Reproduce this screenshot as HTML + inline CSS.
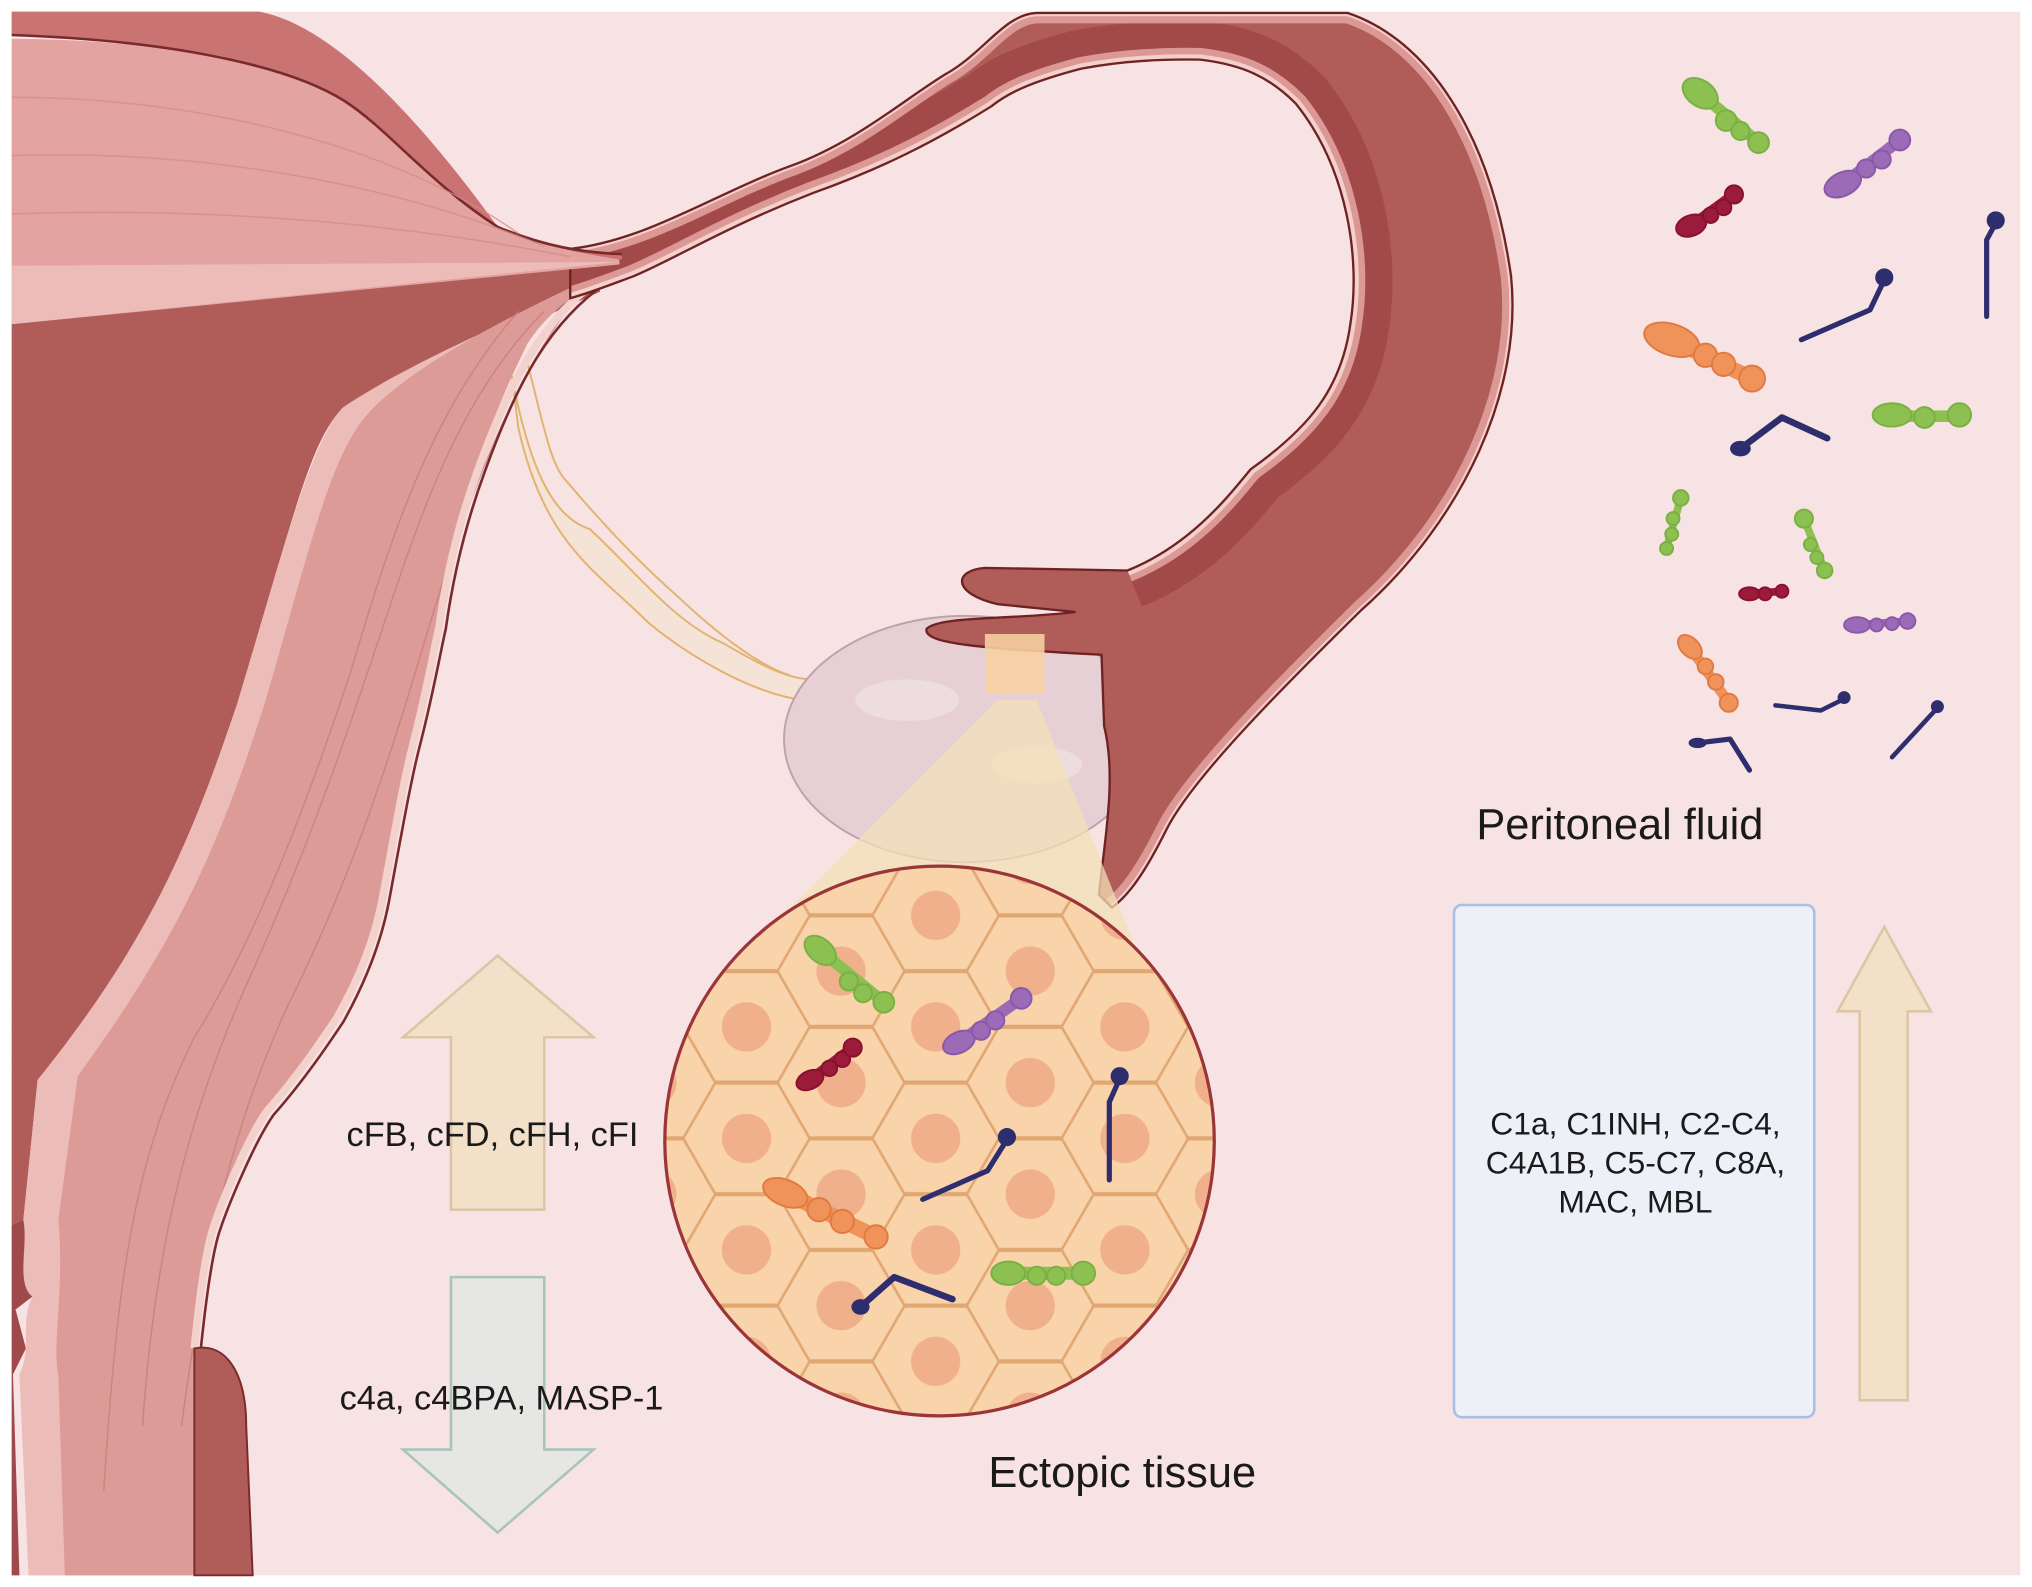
<!DOCTYPE html>
<html><head><meta charset="utf-8"><style>
html,body{margin:0;padding:0;background:#fff;}
svg{display:block;}
text{font-family:"Liberation Sans",sans-serif;fill:#1a1a1a;}
</style></head><body>
<svg width="2032" height="1587" viewBox="0 0 1568 1224" preserveAspectRatio="none" xmlns="http://www.w3.org/2000/svg">
<defs>
<pattern id="hex" patternUnits="userSpaceOnUse" width="146" height="86" x="138" y="18">
<rect width="146" height="86" fill="#f9d3a9"/>
<g fill="#f9d3a9" stroke="#e1a772" stroke-width="2">
<polygon points="-49,0 -24.5,-42.4 24.5,-42.4 49,0 24.5,42.4 -24.5,42.4"/>
<polygon transform="translate(146,0)" points="-49,0 -24.5,-42.4 24.5,-42.4 49,0 24.5,42.4 -24.5,42.4"/>
<polygon transform="translate(0,86)" points="-49,0 -24.5,-42.4 24.5,-42.4 49,0 24.5,42.4 -24.5,42.4"/>
<polygon transform="translate(146,86)" points="-49,0 -24.5,-42.4 24.5,-42.4 49,0 24.5,42.4 -24.5,42.4"/>
<polygon transform="translate(73,43)" points="-49,0 -24.5,-42.4 24.5,-42.4 49,0 24.5,42.4 -24.5,42.4"/>
</g>
<g fill="#f0b08c">
<circle cx="0" cy="0" r="19"/><circle cx="146" cy="0" r="19"/><circle cx="0" cy="86" r="19"/><circle cx="146" cy="86" r="19"/><circle cx="73" cy="43" r="19"/>
</g>
</pattern>
<clipPath id="tubeclip"><path id="tubepath" d="M440,192 C500,185 550,150 610,128 C660,110 700,75 730,57 C760,40 775,11 800,10 L1040,10 C1100,30 1150,100 1166,213 C1175,300 1130,400 1050,471 C990,530 920,600 900,640 C885,670 872,690 858,700 L848,690 C852,650 862,600 852,560 L850,505 C760,500 712,497 715,485 C725,475 780,478 830,472 L770,466 C735,458 735,440 760,438 L870,440 C920,420 950,380 965,362 C1010,330 1035,300 1042,250 C1050,200 1040,130 1000,80 C980,60 960,50 926,46 C880,45 850,50 834,53 C800,62 780,70 765,82 C720,110 680,130 627,149 C560,175 520,200 489,213 C470,220 455,226 440,230 Z"/></clipPath>
</defs>
<rect width="1568" height="1224" fill="#fff"/>
<rect x="9" y="9" width="1550" height="1206" fill="#f7e2e4"/>

<!-- ligament -->
<path d="M395,290 C410,370 430,400 455,408 C490,440 520,480 558,496 C590,515 610,524 627,524 L620,540 C580,535 530,505 500,480 C460,440 420,420 400,330 Z" fill="#f4e3d6" stroke="#e2b36e" stroke-width="1.5"/>
<path d="M407,280 C420,330 425,360 438,372 C470,410 500,440 524,461 C560,495 590,515 610,521" fill="none" stroke="#e2b36e" stroke-width="1.5"/>

<!-- uterus body -->
<path d="M9,250 L463,205 L463,225 L265,314 C240,340 230,386 183,543 C150,640 120,720 29,833 L18,941 L9,945 Z" fill="#b05c58"/>
<path d="M9,945 L20,940 L25,1000 L12,1010 L20,1040 L10,1060 L15,1215 L9,1215 Z" fill="#a0494a"/>
<path d="M454,223 C380,250 300,290 265,314 C240,340 220,420 183,543 C150,640 120,720 29,833 L18,941 C22,960 12,990 25,1000 C15,1020 25,1040 15,1060 L22,1215 L150,1215 L150,1040 C155,990 160,960 165,946 C170,930 190,880 206,857 C230,830 250,800 260,785 C280,750 290,720 295,694 C305,640 312,600 319,573 C330,530 335,500 339,483 C345,440 355,400 369,362 C380,320 395,290 407,265 C420,245 440,228 463,215 Z" fill="#ecbcb9"/>
<path d="M440,222 C370,255 310,290 285,318 C255,350 240,420 205,540 C170,650 140,720 60,830 L45,941 C50,990 40,1040 45,1060 L50,1215 L150,1215 L150,1040 C155,990 160,960 165,946 C170,930 190,880 206,857 C230,830 250,800 260,785 C280,750 290,720 295,694 C305,640 312,600 319,573 C330,530 335,500 339,483 C345,440 355,400 369,362 C380,320 395,290 407,265 C420,245 440,228 463,215 Z" fill="#dd9b98"/>
<g stroke="#c97a78" stroke-width="1.2" fill="none" opacity="0.7">
<path d="M420,240 C360,300 330,380 300,470 C270,560 240,650 190,760 C150,850 120,950 110,1100"/>
<path d="M440,235 C380,320 350,420 320,520 C290,620 260,700 220,780 C180,870 160,950 140,1100"/>
<path d="M400,240 C330,320 300,420 270,520 C240,610 200,720 150,800 C100,900 90,1000 80,1150"/>
</g>
<path d="M463,215 C420,245 395,290 369,362 C355,400 345,440 339,483 C335,500 330,530 319,573 C312,600 305,640 295,694 C290,720 280,750 260,785 C250,800 230,830 206,857 C190,880 170,930 165,946 C160,960 155,990 150,1040" fill="none" stroke="#f3d2ce" stroke-width="6"/>
<path d="M468,218 C425,248 400,292 374,364 C360,402 350,442 344,485 C340,502 335,532 324,575 C317,602 310,642 300,696 C295,722 285,752 265,788 C255,803 235,833 211,860 C195,883 175,933 170,948 C165,962 160,992 155,1040" fill="none" stroke="#7a2a2a" stroke-width="2"/>
<path d="M150,1040 C175,1035 190,1060 190,1100 L195,1215 L150,1215 Z" fill="#b05c58" stroke="#7a2a2a" stroke-width="1.5"/>

<!-- ovary -->
<ellipse cx="745" cy="570" rx="140" ry="95" fill="#e6d0d5" stroke="#bfa2a9" stroke-width="1.5"/>
<ellipse cx="700" cy="540" rx="40" ry="16" fill="#efe0e4" opacity="0.8"/>
<ellipse cx="800" cy="590" rx="35" ry="14" fill="#efe0e4" opacity="0.8"/>

<!-- tube -->
<use href="#tubepath" fill="#b05c58"/>
<g clip-path="url(#tubeclip)">
<path d="M440,230 C455,226 470,220 489,213 C520,200 560,175 627,149 C680,130 720,110 765,82 C780,70 800,62 834,53 C850,50 880,45 926,46 C960,50 980,60 1000,80 C1040,130 1050,200 1042,250 C1035,300 1010,330 965,362 C950,380 920,420 870,440" fill="none" stroke="#a24a4a" stroke-width="60"/>
<path d="M440,230 C455,226 470,220 489,213 C520,200 560,175 627,149 C680,130 720,110 765,82 C780,70 800,62 834,53 C850,50 880,45 926,46 C960,50 980,60 1000,80 C1040,130 1050,200 1042,250 C1035,300 1010,330 965,362 C950,380 920,420 870,440" fill="none" stroke="#dc9895" stroke-width="18"/>
<path d="M440,230 C455,226 470,220 489,213 C520,200 560,175 627,149 C680,130 720,110 765,82 C780,70 800,62 834,53 C850,50 880,45 926,46 C960,50 980,60 1000,80 C1040,130 1050,200 1042,250 C1035,300 1010,330 965,362 C950,380 920,420 870,440" fill="none" stroke="#f3d0cc" stroke-width="8"/>
<path d="M440,192 C500,185 550,150 610,128 C660,110 700,75 730,57 C760,40 775,11 800,10 L1040,10 C1100,30 1150,100 1166,213 C1175,300 1130,400 1050,471 C990,530 920,600 900,640 C885,670 872,690 858,700" fill="none" stroke="#dc9895" stroke-width="16"/>
<path d="M440,192 C500,185 550,150 610,128 C660,110 700,75 730,57 C760,40 775,11 800,10 L1040,10 C1100,30 1150,100 1166,213 C1175,300 1130,400 1050,471 C990,530 920,600 900,640 C885,670 872,690 858,700" fill="none" stroke="#f3d0cc" stroke-width="5"/>
</g>
<use href="#tubepath" fill="none" stroke="#6e2222" stroke-width="1.8"/>

<!-- horn (over tube start) -->
<path d="M9,9 L200,9 C260,20 330,100 384,175 C420,190 450,194 480,195 L480,200 C440,198 410,190 384,178 C330,140 300,100 266,78 C220,50 150,32 9,27 Z" fill="#c97473"/>
<path d="M9,30 C120,30 220,50 266,78 C300,100 330,140 384,175 C420,190 450,196 478,200 L478,204 L9,250 Z" fill="#e3a3a0"/>
<path d="M9,27 C150,32 230,55 266,78 C300,100 330,140 384,175 C420,190 450,195 480,196" fill="none" stroke="#7a2a2a" stroke-width="2"/>
<path d="M9,205 L478,202 L9,250 Z" fill="#ecbcb9"/>
<g stroke="#d58a88" stroke-width="1.2" fill="none" opacity="0.7">
<path d="M9,75 C150,75 300,110 400,180"/><path d="M9,120 C150,115 300,140 420,190"/><path d="M9,165 C150,160 300,170 440,198"/>
</g>

<!-- patch & cone -->
<rect x="760" y="489" width="46" height="46" fill="#f7cfa2" opacity="0.9"/>
<polygon points="770,540 800,540 880,740 570,740" fill="#f3e0b5" opacity="0.75"/>

<!-- circle -->
<circle cx="725" cy="880" r="212" fill="url(#hex)" stroke="#9c3538" stroke-width="2.5"/>

<!-- arrows -->
<polygon points="384,737 458,800 420,800 420,933 348,933 348,800 311,800" fill="#f3e0c9" stroke="#dcc6a6" stroke-width="2"/>
<polygon points="348,985 420,985 420,1118 458,1118 384,1182 311,1118 348,1118" fill="#e6e6e4" stroke="#a9c4ba" stroke-width="2"/>
<polygon points="1454,715 1490,780 1472,780 1472,1080 1435,1080 1435,780 1418,780" fill="#f3e0c9" stroke="#dcc6a6" stroke-width="2"/>

<!-- box -->
<rect x="1122" y="698" width="278" height="395" rx="6" fill="#eef0f8" stroke="#a9bfe3" stroke-width="2"/>

<!-- texts -->
<text x="380" y="884" font-size="26.5" text-anchor="middle">cFB, cFD, cFH, cFI</text>
<text x="387" y="1087" font-size="26.5" text-anchor="middle">c4a, c4BPA, MASP-1</text>
<text x="866" y="1147" font-size="33.5" text-anchor="middle">Ectopic tissue</text>
<text x="1250" y="647" font-size="33.5" text-anchor="middle">Peritoneal fluid</text>
<text x="1262" y="875" font-size="24.6" text-anchor="middle">C1a, C1INH, C2-C4,</text>
<text x="1262" y="905" font-size="24.6" text-anchor="middle">C4A1B, C5-C7, C8A,</text>
<text x="1262" y="935" font-size="24.6" text-anchor="middle">MAC, MBL</text>

<!-- bacteria -->
<g stroke-linecap="round" stroke-linejoin="round">
<g fill="#8cc152" stroke="#7ab043" stroke-width="1.5">
<path d="M1312,72 L1357,110" stroke="#8cc152" stroke-width="9"/>
<ellipse cx="1312" cy="72" rx="15" ry="10" transform="rotate(35 1312 72)"/><circle cx="1332" cy="93" r="8"/><circle cx="1343" cy="101" r="7"/><circle cx="1357" cy="110" r="8"/>
<path d="M1460,321 L1512,321" stroke="#8cc152" stroke-width="9"/>
<ellipse cx="1460" cy="320" rx="15" ry="9"/><circle cx="1485" cy="322" r="8"/><circle cx="1512" cy="320" r="9"/>
<path d="M1297,384 L1286,423" stroke="#8cc152" stroke-width="6"/>
<circle cx="1297" cy="384" r="6"/><circle cx="1291" cy="400" r="5"/><circle cx="1290" cy="412" r="5"/><circle cx="1286" cy="423" r="5"/>
<path d="M1392,400 L1408,440" stroke="#8cc152" stroke-width="6"/>
<circle cx="1392" cy="400" r="7"/><circle cx="1397" cy="420" r="5"/><circle cx="1402" cy="430" r="5"/><circle cx="1408" cy="440" r="6"/>
</g>
<g fill="#9c6bb8" stroke="#8a58a8" stroke-width="1.5">
<path d="M1422,142 L1466,108" stroke="#9c6bb8" stroke-width="9"/>
<ellipse cx="1422" cy="142" rx="15" ry="9" transform="rotate(-25 1422 142)"/><circle cx="1440" cy="130" r="7"/><circle cx="1452" cy="123" r="7"/><circle cx="1466" cy="108" r="8"/>
<path d="M1433,482 L1472,479" stroke="#9c6bb8" stroke-width="6"/>
<ellipse cx="1433" cy="482" rx="10" ry="6"/><circle cx="1448" cy="482" r="5"/><circle cx="1460" cy="481" r="5"/><circle cx="1472" cy="479" r="6"/>
</g>
<g fill="#9b1b3a" stroke="#8a1030" stroke-width="1.5">
<path d="M1305,174 L1338,150" stroke="#9b1b3a" stroke-width="8"/>
<ellipse cx="1305" cy="174" rx="12" ry="8" transform="rotate(-20 1305 174)"/><circle cx="1320" cy="166" r="6"/><circle cx="1330" cy="160" r="6"/><circle cx="1338" cy="150" r="7"/>
<path d="M1350,458 L1375,456" stroke="#9b1b3a" stroke-width="6"/>
<ellipse cx="1350" cy="458" rx="8" ry="5"/><circle cx="1362" cy="458" r="5"/><circle cx="1375" cy="456" r="5"/>
</g>
<g fill="#f0935a" stroke="#e07a40" stroke-width="1.5">
<path d="M1290,262 L1352,292" stroke="#f0935a" stroke-width="12"/>
<ellipse cx="1290" cy="262" rx="22" ry="12" transform="rotate(18 1290 262)"/><circle cx="1316" cy="274" r="9"/><circle cx="1330" cy="281" r="9"/><circle cx="1352" cy="292" r="10"/>
<path d="M1304,499 L1334,542" stroke="#f0935a" stroke-width="8"/>
<ellipse cx="1304" cy="499" rx="11" ry="7" transform="rotate(45 1304 499)"/><circle cx="1316" cy="514" r="6"/><circle cx="1324" cy="526" r="6"/><circle cx="1334" cy="542" r="7"/>
</g>
<g stroke="#2e2e6e" fill="#2e2e6e">
<circle cx="1540" cy="170" r="7" stroke="none"/><path d="M1540,172 L1533,185 L1533,244" fill="none" stroke-width="4"/>
<circle cx="1454" cy="214" r="7" stroke="none"/><path d="M1454,216 L1443,239 L1390,262" fill="none" stroke-width="4"/>
<ellipse cx="1343" cy="346" rx="8" ry="6" stroke="none"/><path d="M1343,346 L1375,322 L1410,338" fill="none" stroke-width="5"/>
<circle cx="1423" cy="538" r="5" stroke="none"/><path d="M1423,539 L1405,548 L1370,544" fill="none" stroke-width="3.5"/>
<ellipse cx="1310" cy="573" rx="7" ry="4" stroke="none"/><path d="M1310,573 L1335,570 L1350,594" fill="none" stroke-width="4"/>
<circle cx="1495" cy="545" r="5" stroke="none"/><path d="M1495,546 L1460,584" fill="none" stroke-width="3.5"/>
</g>
<g fill="#8cc152" stroke="#7ab043" stroke-width="1.5">
<path d="M633,733 L682,773" stroke="#8cc152" stroke-width="9"/>
<ellipse cx="633" cy="733" rx="14" ry="9" transform="rotate(40 633 733)"/><circle cx="655" cy="757" r="7"/><circle cx="666" cy="766" r="7"/><circle cx="682" cy="773" r="8"/>
<path d="M778,982 L836,982" stroke="#8cc152" stroke-width="10"/>
<ellipse cx="778" cy="982" rx="13" ry="9"/><circle cx="800" cy="984" r="7"/><circle cx="815" cy="984" r="7"/><circle cx="836" cy="982" r="9"/>
</g>
<g fill="#9c6bb8" stroke="#8a58a8" stroke-width="1.5">
<path d="M740,804 L788,770" stroke="#9c6bb8" stroke-width="9"/>
<ellipse cx="740" cy="804" rx="13" ry="8" transform="rotate(-25 740 804)"/><circle cx="757" cy="795" r="7"/><circle cx="768" cy="787" r="7"/><circle cx="788" cy="770" r="8"/>
</g>
<g fill="#9b1b3a" stroke="#8a1030" stroke-width="1.5">
<path d="M625,833 L658,808" stroke="#9b1b3a" stroke-width="8"/>
<ellipse cx="625" cy="833" rx="11" ry="7" transform="rotate(-25 625 833)"/><circle cx="640" cy="824" r="6"/><circle cx="650" cy="817" r="6"/><circle cx="658" cy="808" r="7"/>
</g>
<g fill="#f0935a" stroke="#e07a40" stroke-width="1.5">
<path d="M606,920 L676,954" stroke="#f0935a" stroke-width="12"/>
<ellipse cx="606" cy="920" rx="18" ry="10" transform="rotate(22 606 920)"/><circle cx="632" cy="933" r="9"/><circle cx="650" cy="942" r="9"/><circle cx="676" cy="954" r="9"/>
</g>
<g stroke="#2e2e6e" fill="#2e2e6e">
<circle cx="864" cy="830" r="7" stroke="none"/><path d="M864,832 L856,850 L856,910" fill="none" stroke-width="4"/>
<circle cx="777" cy="877" r="7" stroke="none"/><path d="M777,879 L762,903 L712,925" fill="none" stroke-width="4"/>
<ellipse cx="664" cy="1008" rx="7" ry="6" stroke="none"/><path d="M664,1008 L690,985 L735,1002" fill="none" stroke-width="5"/>
</g>
</g>
</svg>
</body></html>
